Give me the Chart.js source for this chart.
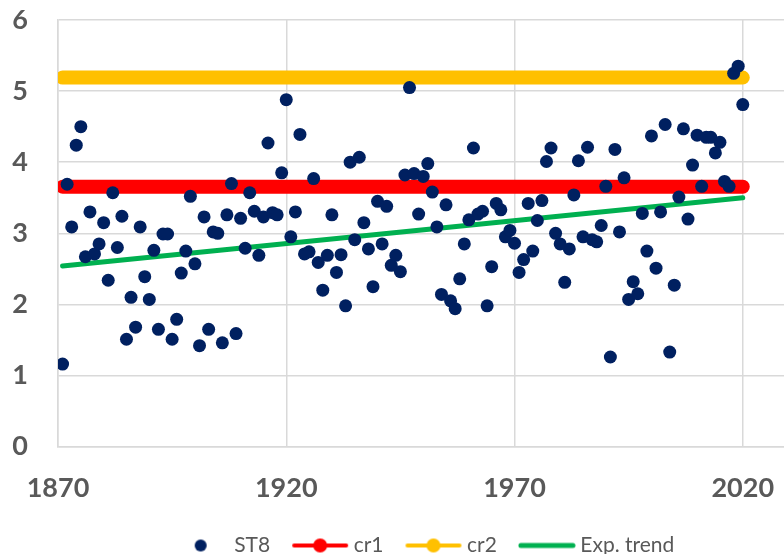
<!DOCTYPE html>
<html><head><meta charset="utf-8">
<script src="https://cdn.jsdelivr.net/npm/chart.js@4.4.0/dist/chart.umd.min.js"></script>
<style>
html,body{margin:0;padding:0;background:#fff;overflow:hidden}
#wrap{width:784px;height:554px;overflow:hidden;position:relative}
canvas{position:absolute;left:0;top:0}
</style>
</head><body><div id="wrap"><canvas id="c" width="852" height="554"></canvas></div>
<script>
const years = [1871,1872,1873,1874,1875,1876,1877,1878,1879,1880,
1881,1882,1883,1884,1885,1886,1887,1888,1889,1890,
1891,1892,1893,1894,1895,1896,1897,1898,1899,1900,
1901,1902,1903,1904,1905,1906,1907,1908,1909,1910,
1911,1912,1913,1914,1915,1916,1917,1918,1919,1920,
1921,1922,1923,1924,1925,1926,1927,1928,1929,1930,
1931,1932,1933,1934,1935,1936,1937,1938,1939,1940,
1941,1942,1943,1944,1945,1946,1947,1948,1949,1950,
1951,1952,1953,1954,1955,1956,1957,1958,1959,1960,
1961,1962,1963,1964,1965,1966,1967,1968,1969,1970,
1971,1972,1973,1974,1975,1976,1977,1978,1979,1980,
1981,1982,1983,1984,1985,1986,1987,1988,1989,1990,
1991,1992,1993,1994,1995,1996,1997,1998,1999,2000,
2001,2002,2003,2004,2005,2006,2007,2008,2009,2010,
2011,2012,2013,2014,2015,2016,2017,2018,2019,2020];
const st8Values = [1.16,3.69,3.09,4.24,4.50,2.67,3.30,2.71,2.85,3.15,
2.34,3.57,2.80,3.24,1.51,2.10,1.68,3.09,2.39,2.07,
2.76,1.65,2.99,2.99,1.51,1.79,2.44,2.75,3.52,2.57,
1.42,3.23,1.65,3.02,3.00,1.46,3.26,3.70,1.59,3.21,
2.79,3.57,3.31,2.69,3.23,4.27,3.29,3.26,3.85,4.88,
2.95,3.30,4.39,2.71,2.74,3.77,2.59,2.20,2.69,3.26,
2.45,2.70,1.98,4.00,2.91,4.07,3.15,2.78,2.25,3.45,
2.85,3.38,2.55,2.69,2.46,3.82,5.05,3.84,3.27,3.80,
3.98,3.58,3.09,2.14,3.40,2.05,1.94,2.36,2.85,3.19,
4.20,3.27,3.31,1.98,2.53,3.42,3.33,2.95,3.04,2.86,
2.45,2.63,3.42,2.75,3.18,3.46,4.01,4.20,3.00,2.85,
2.31,2.78,3.54,4.02,2.95,4.21,2.91,2.88,3.11,3.66,
1.26,4.18,3.02,3.78,2.07,2.32,2.15,3.28,2.75,4.37,
2.51,3.30,4.53,1.33,2.27,3.51,4.47,3.20,3.96,4.38,
3.66,4.35,4.35,4.13,4.28,3.73,3.66,5.25,5.35,4.81];
const cr1Value = 3.655;
const cr2Value = 5.19;
const lineYears = [1871, 2020];
const trendYears = [1871, 2020];
const trendValues = [2.54, 3.50];
const xTickValues = [1870, 1920, 1970, 2020];
const yTickValues = [0, 1, 2, 3, 4, 5, 6];
const seriesNames = ['ST8', 'cr1', 'cr2', 'Exp. trend'];

const NAVY = '#002060', RED = '#FF0000', GOLD = '#FFC000', GREEN = '#00B050';
const GRID = '#d9d9d9', TXT = '#595959';

function legendIcon(kind, color) {
  const c = document.createElement('canvas');
  c.width = 58; c.height = 18;
  const g = c.getContext('2d');
  if (kind !== 'dot') {
    g.strokeStyle = color; g.lineCap = 'round';
    g.lineWidth = kind === 'thick' ? 5 : 4;
    g.beginPath(); g.moveTo(3, 9); g.lineTo(55, 9); g.stroke();
  }
  if (kind !== 'thick') {
    g.fillStyle = color;
    g.beginPath(); g.arc(29, 9, kind === 'dot' ? 6 : 7, 0, Math.PI * 2); g.fill();
  }
  return c;
}
const icons = [legendIcon('dot', NAVY), legendIcon('marker', RED), legendIcon('marker', GOLD), legendIcon('thick', GREEN)];

const ctx = document.getElementById('c');
new Chart(ctx, {
  type: 'scatter',
  data: {
    datasets: [
      { label: seriesNames[0], data: years.map((y, i) => ({x: y, y: st8Values[i]})),
        backgroundColor: NAVY, borderColor: NAVY, pointRadius: 6.5, pointBorderWidth: 0, showLine: false },
      { label: seriesNames[1], data: lineYears.map(y => ({x: y, y: cr1Value})),
        borderColor: RED, backgroundColor: RED, borderWidth: 14, borderCapStyle: 'round', pointRadius: 0, showLine: true },
      { label: seriesNames[2], data: lineYears.map(y => ({x: y, y: cr2Value})),
        borderColor: GOLD, backgroundColor: GOLD, borderWidth: 14, borderCapStyle: 'round', pointRadius: 0, showLine: true },
      { label: seriesNames[3], data: trendYears.map((y, i) => ({x: y, y: trendValues[i]})),
        borderColor: GREEN, backgroundColor: GREEN, borderWidth: 5, borderCapStyle: 'round', pointRadius: 0, showLine: true }
    ]
  },
  options: {
    responsive: false,
    animation: false,
    devicePixelRatio: 1,
    layout: { padding: { left: 12, right: 12, top: 20, bottom: -12 } },
    scales: {
      x: {
        type: 'linear', min: 1870, max: 2041.3,
        afterBuildTicks: s => { s.ticks = xTickValues.map(v => ({value: v})); },
        afterFit: s => { s.paddingLeft = 0; s.paddingRight = 0; s.height = 61.4; },
        grid: { color: GRID, lineWidth: 1.5, drawTicks: false },
        border: { color: GRID, width: 1.5 },
        ticks: { color: TXT, font: { family: 'Lato', size: 27, weight: 'bold' }, padding: 25, maxRotation: 0, autoSkip: false,
                 callback: v => String(v) }
      },
      y: {
        type: 'linear', min: 0, max: 6,
        afterBuildTicks: s => { s.ticks = yTickValues.map(v => ({value: v})); },
        afterFit: s => { s.paddingTop = 0; s.paddingBottom = 0; s.width = 46; },
        grid: { color: GRID, lineWidth: 1.5, drawTicks: false },
        border: { color: GRID, width: 1.5 },
        ticks: { color: TXT, font: { family: 'Lato', size: 27, weight: 'bold' }, padding: 30 }
      }
    },
    plugins: {
      tooltip: { enabled: false },
      legend: {
        position: 'bottom',
        labels: {
          usePointStyle: true, pointStyleWidth: 46, boxHeight: 16,
          color: TXT, font: { family: 'Lato', size: 21 }, padding: 27,
          generateLabels: chart => {
            const items = Chart.defaults.plugins.legend.labels.generateLabels(chart);
            items.forEach((it, i) => { it.pointStyle = icons[i]; });
            return items;
          }
        }
      }
    }
  }
});
</script>
</body></html>
